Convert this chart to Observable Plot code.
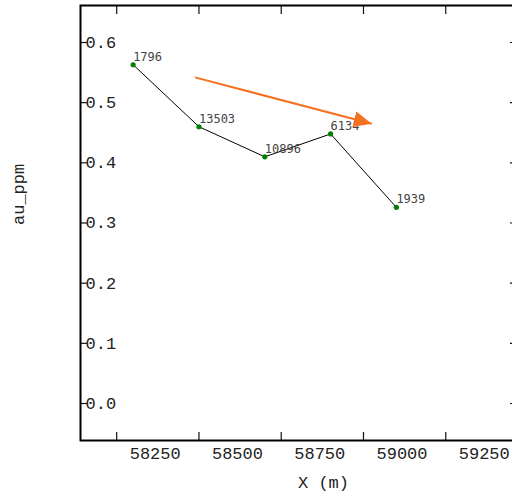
<!DOCTYPE html>
<html>
<head>
<meta charset="utf-8">
<script src="https://cdn.jsdelivr.net/npm/d3@7"></script>
<script src="https://cdn.jsdelivr.net/npm/@observablehq/plot@0.6"></script>
<style>
  html, body { margin: 0; padding: 0; background: white; }
  svg { overflow: hidden; }
</style>
</head>
<body>
<div id="chart"></div>
<script>
// Data
const xs = [58300, 58500, 58700, 58900, 59100];
const au = [0.563, 0.460, 0.410, 0.448, 0.326];
const counts = ["1796", "13503", "10896", "6134", "1939"];
const xTicks = [58250, 58500, 58750, 59000, 59250];
const yTicks = [0.0, 0.1, 0.2, 0.3, 0.4, 0.5, 0.6];
const arrowFrom = {x: 58488, y: 0.542};
const arrowTo = {x: 59025, y: 0.465};

const pts = xs.map((x, i) => ({x, y: au[i], label: counts[i]}));
const arrows = [{x1: arrowFrom.x, y1: arrowFrom.y, x2: arrowTo.x, y2: arrowTo.y}];

const orange = "#f5701f";
function headMarker(color) {
  const m = d3.create("svg:marker")
    .attr("viewBox", "-18 -8 18 16")
    .attr("markerWidth", 18)
    .attr("markerHeight", 16)
    .attr("refX", 0)
    .attr("refY", 0)
    .attr("orient", "auto")
    .attr("markerUnits", "userSpaceOnUse")
    .attr("fill", orange)
    .attr("stroke", "none");
  m.append("path").attr("d", "M-18,-8L0,0L-18,8Z");
  return m.node();
}

const tickFont = "Liberation Mono";
const labelFont = "Liberation Mono";

const chart = Plot.plot({
  width: 512,
  height: 496,
  marginLeft: 80,
  marginTop: 5,
  marginBottom: 56,
  marginRight: -4,
  style: {background: "white", color: "#111"},
  x: {domain: [58140, 59465], ticks: xTicks},
  y: {domain: [-0.0615, 0.6615], ticks: yTicks},
  marks: [
    // ticks (inward)
    Plot.axisX(xTicks, {anchor: "bottom", tickSize: -8, tickFormat: () => "", label: null, strokeWidth: 1.2}),
    Plot.axisX(xTicks, {anchor: "top", tickSize: -8, tickFormat: () => "", label: null, strokeWidth: 1.2}),
    Plot.axisY(yTicks, {anchor: "left", tickSize: -7, tickFormat: () => "", label: null, strokeWidth: 1.2}),
    Plot.axisY(yTicks, {anchor: "right", tickSize: -7, tickFormat: () => "", label: null, strokeWidth: 1.2}),
    // tick labels
    Plot.axisX(xTicks, {anchor: "bottom", tickSize: 0, tickPadding: 6, dx: 38.5, label: null,
      tickFormat: d => String(d), fontSize: 17, fontFamily: tickFont, fill: "#222"}),
    Plot.axisY(yTicks, {anchor: "left", tickSize: 0, tickPadding: 0, dx: 5, textAnchor: "start", label: null,
      tickFormat: d3.format(".1f"), fontSize: 17, fontFamily: tickFont, fill: "#222"}),
    Plot.frame({stroke: "black", strokeWidth: 2}),
    // axis labels
    Plot.text(["X (m)"], {frameAnchor: "bottom", dx: 25, dy: 42, lineAnchor: "middle",
      fontSize: 17, fontFamily: labelFont, fill: "#222"}),
    Plot.text(["au_ppm"], {frameAnchor: "left", dx: -62, dy: 2, rotate: -90, lineAnchor: "middle",
      fontSize: 17, fontFamily: labelFont, fill: "#222"}),
    // data
    Plot.line(pts, {x: "x", y: "y", stroke: "black", strokeWidth: 1}),
    Plot.dot(pts, {x: "x", y: "y", r: 2.6, fill: "#008000", stroke: "none"}),
    Plot.text(pts, {x: "x", y: "y", text: "label", textAnchor: "start", lineAnchor: "bottom", dy: -4, dx: 0,
      fontSize: 12, fontFamily: "DejaVu Sans Mono", fill: "#444"}),
    Plot.link(arrows, {x1: "x1", y1: "y1", x2: "x2", y2: "y2", stroke: orange, strokeWidth: 2, markerEnd: headMarker})
  ]
});
document.getElementById("chart").appendChild(chart);
</script>
</body>
</html>
